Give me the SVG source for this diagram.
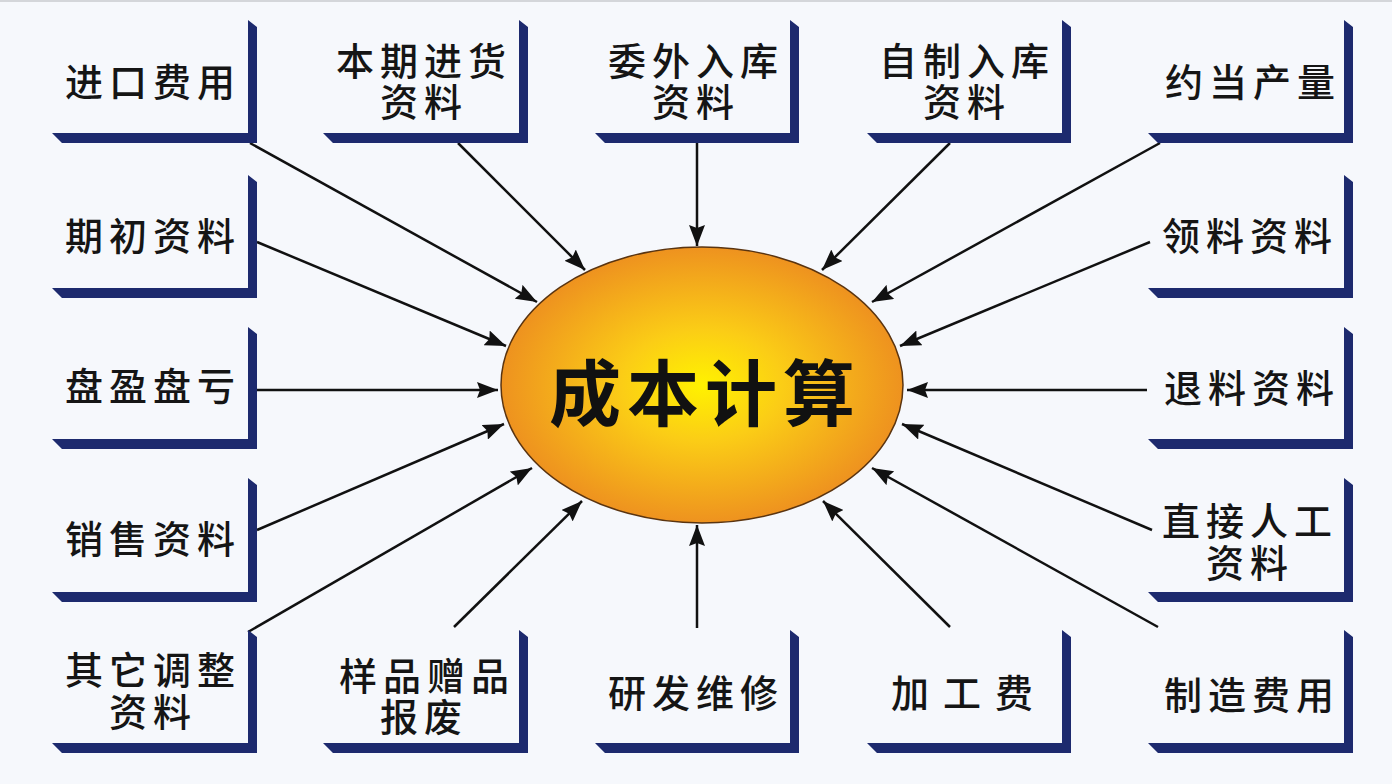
<svg xmlns="http://www.w3.org/2000/svg" width="1392" height="784" viewBox="0 0 1392 784">
<defs>
<radialGradient id="gold" cx="50%" cy="50%" r="50%">
<stop offset="0" stop-color="#fff200"/>
<stop offset="0.4" stop-color="#fbcd16"/>
<stop offset="1" stop-color="#ee921f"/>
</radialGradient>
<marker id="ah" markerUnits="userSpaceOnUse" markerWidth="22" markerHeight="16" viewBox="0 0 22 16" refX="21" refY="8" orient="auto">
<path d="M0,0 L21,8 L0,16 L3,8 Z" fill="#111"/>
</marker>
<style>
.bar{fill:#1d2a6e}
.t{font-family:"Noto Sans CJK SC","Noto Sans",sans-serif;font-size:38px;font-weight:500;fill:#151515;text-anchor:middle;dominant-baseline:central;letter-spacing:6px}
.c{font-family:"Noto Sans CJK SC","Noto Sans",sans-serif;font-size:72px;font-weight:700;fill:#111;text-anchor:middle;dominant-baseline:central;letter-spacing:6px}
.ln{stroke:#111;stroke-width:2.5;fill:none;marker-end:url(#ah)}
</style>
</defs>
<rect width="1392" height="784" fill="#f6f8fc"/>
<rect width="1392" height="2" fill="#d4d6da"/>

<g id="connectors">
<line class="ln" x1="250" y1="143" x2="537" y2="302"/>
<line class="ln" x1="458" y1="143" x2="585" y2="270"/>
<line class="ln" x1="697" y1="143" x2="697" y2="246"/>
<line class="ln" x1="950" y1="143" x2="822" y2="270"/>
<line class="ln" x1="1160" y1="143" x2="872" y2="302"/>
<line class="ln" x1="257" y1="242" x2="506" y2="346"/>
<line class="ln" x1="1150" y1="242" x2="900" y2="346"/>
<line class="ln" x1="257" y1="390" x2="498" y2="390"/>
<line class="ln" x1="1147" y1="390" x2="907" y2="390"/>
<line class="ln" x1="257" y1="530" x2="504" y2="424"/>
<line class="ln" x1="1152" y1="530" x2="902" y2="424"/>
<line class="ln" x1="248" y1="632" x2="532" y2="468"/>
<line class="ln" x1="1158" y1="627" x2="872" y2="468"/>
<line class="ln" x1="454" y1="627" x2="582" y2="501"/>
<line class="ln" x1="697" y1="628" x2="697" y2="525"/>
<line class="ln" x1="950" y1="627" x2="823" y2="501"/>
</g>

<g id="center">
<ellipse cx="702" cy="385" rx="201" ry="138" fill="url(#gold)" stroke="#5a3410" stroke-width="1.5"/>
<text class="c" x="705" y="388">成本计算</text>
</g>

<g id="n1"><path class="bar" d="M248,20 L257,27 L257,143 L62,143 L52,133 L248,133 Z"/><text class="t" x="153" y="79">进口费用</text></g>
<g id="n2"><path class="bar" d="M519,20 L528,27 L528,143 L333,143 L323,133 L519,133 Z"/><text class="t" y="58"><tspan x="424">本期进货</tspan><tspan x="424" dy="41">资料</tspan></text></g>
<g id="n3"><path class="bar" d="M790,20 L799,27 L799,143 L605,143 L595,133 L790,133 Z"/><text class="t" y="58"><tspan x="696">委外入库</tspan><tspan x="696" dy="41">资料</tspan></text></g>
<g id="n4"><path class="bar" d="M1062,20 L1071,27 L1071,143 L877,143 L867,133 L1062,133 Z"/><text class="t" y="58"><tspan x="967">自制入库</tspan><tspan x="967" dy="41">资料</tspan></text></g>
<g id="n5"><path class="bar" d="M1344,20 L1353,27 L1353,143 L1158,143 L1148,133 L1344,133 Z"/><text class="t" x="1253" y="79">约当产量</text></g>

<g id="n6"><path class="bar" d="M248,175 L257,182 L257,298 L62,298 L52,288 L248,288 Z"/><text class="t" x="153" y="233">期初资料</text></g>
<g id="n7"><path class="bar" d="M1344,175 L1353,182 L1353,298 L1158,298 L1148,288 L1344,288 Z"/><text class="t" x="1250" y="233">领料资料</text></g>

<g id="n8"><path class="bar" d="M248,327 L257,334 L257,449 L62,449 L52,439 L248,439 Z"/><text class="t" x="153" y="383">盘盈盘亏</text></g>
<g id="n9"><path class="bar" d="M1344,327 L1353,334 L1353,449 L1158,449 L1148,439 L1344,439 Z"/><text class="t" x="1252" y="385">退料资料</text></g>

<g id="n10"><path class="bar" d="M248,478 L257,485 L257,602 L62,602 L52,592 L248,592 Z"/><text class="t" x="153" y="536">销售资料</text></g>
<g id="n11"><path class="bar" d="M1344,478 L1353,485 L1353,602 L1158,602 L1148,592 L1344,592 Z"/><text class="t" y="518"><tspan x="1250">直接人工</tspan><tspan x="1250" dy="42">资料</tspan></text></g>

<g id="n12"><path class="bar" d="M248,630 L257,637 L257,753 L62,753 L52,743 L248,743 Z"/><text class="t" y="667"><tspan x="153">其它调整</tspan><tspan x="153" dy="42">资料</tspan></text></g>
<g id="n13"><path class="bar" d="M519,630 L528,637 L528,753 L333,753 L323,743 L519,743 Z"/><text class="t" y="673"><tspan x="427">样品赠品</tspan><tspan x="424" dy="41">报废</tspan></text></g>
<g id="n14"><path class="bar" d="M790,630 L799,637 L799,753 L605,753 L595,743 L790,743 Z"/><text class="t" x="696" y="690">研发维修</text></g>
<g id="n15"><path class="bar" d="M1062,630 L1071,637 L1071,753 L877,753 L867,743 L1062,743 Z"/><text class="t" x="969" y="690" style="letter-spacing:14px">加工费</text></g>
<g id="n16"><path class="bar" d="M1344,630 L1353,637 L1353,753 L1158,753 L1148,743 L1344,743 Z"/><text class="t" x="1252" y="692">制造费用</text></g>
</svg>
